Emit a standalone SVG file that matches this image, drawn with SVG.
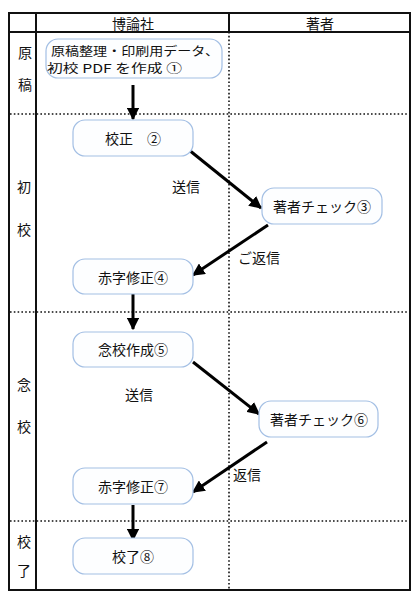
<svg xmlns="http://www.w3.org/2000/svg" width="418" height="599" viewBox="0 0 418 599">
<defs>
<style>
text{font-family:"Noto Sans CJK JP","Noto Sans CJK SC",sans-serif;font-size:14px;fill:#111;text-anchor:middle;dominant-baseline:central}
.node rect{fill:#fdfeff;stroke:#a3bfe4;stroke-width:1.2}
.dot{stroke:#111;stroke-width:1.6;stroke-dasharray:1.6 2.2;fill:none}
.solid{stroke:#111;stroke-width:2;fill:none}
.arr{stroke:#000;stroke-width:3;fill:none;marker-end:url(#ah)}
.small{font-size:12px}
</style>
<marker id="ah" viewBox="0 0 10 10" refX="9" refY="5" markerWidth="4.2" markerHeight="4.2" orient="auto" markerUnits="strokeWidth">
<path d="M0,0 L10,5 L0,10 z" fill="#000"/>
</marker>
</defs>
<rect width="418" height="599" fill="#fff"/>
<g id="grid">
<line class="dot" x1="10" y1="114" x2="409" y2="114"/>
<line class="dot" x1="10" y1="312" x2="409" y2="312"/>
<line class="dot" x1="10" y1="521" x2="409" y2="521"/>
<line class="dot" x1="229" y1="32" x2="229" y2="589"/>
<line class="solid" x1="229" y1="13" x2="229" y2="32"/>
<line class="solid" x1="9" y1="32" x2="410" y2="32"/>
<line class="solid" x1="36" y1="13" x2="36" y2="590"/>
<rect class="solid" x="9" y="13" width="401" height="577"/>
</g>
<g id="headers">
<text x="133" y="23">博論社</text>
<text x="320" y="23">著者</text>
</g>
<g id="phases">
<text x="25" y="52">原</text>
<text x="25" y="84">稿</text>
<text x="24" y="186">初</text>
<text x="24" y="229">校</text>
<text x="24" y="384">念</text>
<text x="24" y="426">校</text>
<text x="24" y="541">校</text>
<text x="24" y="570">了</text>
</g>
<g id="connectors">
<line class="arr" x1="133" y1="85" x2="133" y2="119"/>
<line class="arr" x1="189" y1="150" x2="261" y2="208"/>
<line class="arr" x1="268" y1="225" x2="193" y2="275"/>
<line class="arr" x1="133" y1="294" x2="133" y2="329"/>
<line class="arr" x1="193" y1="362" x2="259" y2="414"/>
<line class="arr" x1="267" y1="442" x2="193" y2="492"/>
<line class="arr" x1="133" y1="505" x2="133" y2="540"/>
<text x="186" y="186">送信</text>
<text x="259" y="257">ご返信</text>
<text x="139" y="394">送信</text>
<text x="247" y="474">返信</text>
</g>
<g id="n1" class="node">
<rect x="46" y="39" width="176" height="39" rx="12"/>
<text class="small" x="51" y="50" style="text-anchor:start" textLength="168" lengthAdjust="spacingAndGlyphs">原稿整理・印刷用データ、</text>
<text class="small" x="47" y="67.5" style="text-anchor:start" textLength="135" lengthAdjust="spacingAndGlyphs">初校 PDF を作成 ①</text>
</g>
<g id="n2" class="node">
<rect x="73" y="120" width="120" height="36" rx="12"/>
<text x="133" y="138">校正　②</text>
</g>
<g id="n3" class="node">
<rect x="262" y="188" width="120" height="36" rx="12"/>
<text x="322" y="206">著者チェック③</text>
</g>
<g id="n4" class="node">
<rect x="73" y="259" width="120" height="35" rx="12"/>
<text x="133" y="277">赤字修正④</text>
</g>
<g id="n5" class="node">
<rect x="73" y="332" width="120" height="35" rx="12"/>
<text x="133" y="349">念校作成⑤</text>
</g>
<g id="n6" class="node">
<rect x="259" y="401" width="119" height="36" rx="12"/>
<text x="319" y="419">著者チェック⑥</text>
</g>
<g id="n7" class="node">
<rect x="73" y="468" width="120" height="36" rx="12"/>
<text x="133" y="486">赤字修正⑦</text>
</g>
<g id="n8" class="node">
<rect x="73" y="538" width="120" height="36" rx="12"/>
<text x="133" y="556">校了⑧</text>
</g>
</svg>
